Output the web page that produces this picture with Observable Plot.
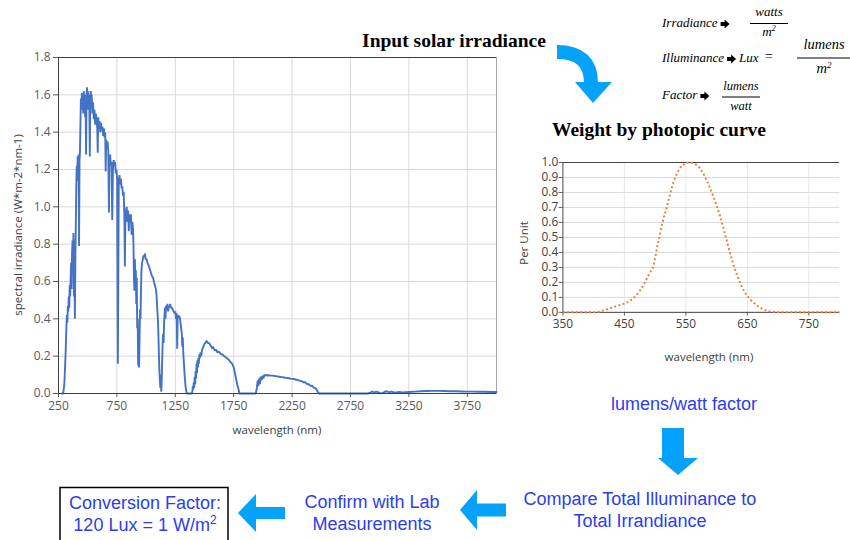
<!DOCTYPE html>
<html>
<head>
<meta charset="utf-8">
<script src="https://cdn.jsdelivr.net/npm/d3@7"></script>
<script src="https://cdn.jsdelivr.net/npm/@observablehq/plot@0.6"></script>
<style>
  html, body { margin: 0; padding: 0; background: #fff; }
  #stage { position: relative; width: 850px; height: 540px; overflow: hidden; background: #fff; }
  .chart { position: absolute; }
  #overlay { position: absolute; left: 0; top: 0; pointer-events: none; }
</style>
</head>
<body>
<div id="stage">
  <div id="main" class="chart" style="left:0;top:0"></div>
  <div id="photo" class="chart" style="left:500px;top:140px"></div>
  <svg id="overlay" width="850" height="540"></svg>
</div>
<script>
// ---------- Solar spectral irradiance ----------
const solarWavelength = [
  280,290,300,310,318,322,326,330,334,338,342,346,350,354,358,362,366,370,374,378,382,386,390,394,398,
  402,406,410,414,418,422,426,430,434,438,442,446,450,454,458,462,466,470,474,478,482,486,490,494,498,
  502,506,510,514,518,522,526,530,534,540,546,552,558,564,570,576,582,586,590,596,602,608,614,620,626,
  632,638,644,650,654,658,664,670,676,682,686,692,698,704,710,716,722,728,734,740,746,752,758,762,766,
  772,778,784,790,796,802,808,814,818,822,828,834,840,846,852,858,864,870,876,882,888,892,896,900,904,
  908,912,916,920,924,928,932,936,940,944,948,952,956,960,966,972,978,984,990,996,1004,1012,1020,1030,
  1040,1050,1060,1070,1080,1086,1090,1094,1098,1102,1106,1110,1114,1118,1122,1126,1130,1134,1138,1142,
  1146,1150,1154,1158,1162,1166,1170,1176,1182,1188,1194,1200,1206,1212,1220,1228,1236,1244,1250,1256,
  1262,1266,1270,1276,1282,1288,1294,1300,1306,1310,1314,1318,1324,1330,1336,1342,1348,1390,1396,1400,
  1404,1408,1412,1416,1420,1424,1428,1432,1436,1440,1444,1448,1452,1456,1460,1466,1472,1478,1484,1490,
  1496,1502,1508,1514,1520,1530,1540,1550,1560,1566,1570,1580,1590,1600,1610,1620,1630,1640,1650,1660,
  1670,1680,1690,1700,1710,1720,1730,1740,1750,1760,1770,1780,1790,1800,1940,1948,1956,1962,1968,1974,
  1980,1988,1996,2004,2012,2020,2030,2040,2050,2060,2080,2100,2120,2140,2160,2180,2200,2220,2240,2260,
  2280,2300,2320,2340,2350,2360,2370,2380,2390,2400,2410,2420,2430,2440,2450,2460,2470,2480,2900,2920,
  2940,2950,2970,2990,3010,3040,3060,3080,3100,3130,3170,3200,3250,3300,3350,3400,3450,3500,3550,3600,
  3650,3700,3750,3800,3850,3900,3950,4000
];
const solarIrradiance = [
  0,0,0.05,0.2,0.36,0.42,0.38,0.47,0.44,0.52,0.46,0.58,0.52,0.62,0.70,0.56,0.75,0.82,0.68,0.86,0.52,0.82,0.40,0.70,0.88,
  1.10,1.22,1.14,1.27,1.20,1.28,0.79,1.25,1.30,1.45,1.58,1.52,1.61,1.55,1.60,1.50,1.62,1.56,1.60,1.48,1.58,1.28,1.60,1.64,1.57,
  1.62,1.52,1.60,1.55,1.27,1.58,1.62,1.55,1.60,1.50,1.56,1.47,1.52,1.44,1.50,1.46,1.42,1.29,1.48,1.44,1.46,1.40,1.45,1.41,1.43,
  1.38,1.42,1.37,1.40,1.19,1.36,1.33,1.35,1.30,0.97,1.26,1.28,1.22,1.24,0.93,1.20,1.25,1.22,1.24,1.18,1.20,1.15,0.16,0.60,1.14,
  1.17,1.12,1.15,1.10,1.11,1.06,1.08,0.95,0.68,0.90,0.98,1.00,0.92,0.98,0.87,0.96,0.93,0.96,0.85,0.92,0.88,0.80,0.62,0.55,0.72,
  0.60,0.66,0.48,0.62,0.35,0.40,0.15,0.17,0.14,0.30,0.45,0.40,0.55,0.66,0.70,0.72,0.74,0.73,0.75,0.72,0.72,0.70,0.69,0.67,
  0.65,0.63,0.62,0.59,0.57,0.55,0.52,0.47,0.43,0.38,0.30,0.20,0.12,0.07,0.03,0.10,0.01,0.08,0.18,0.28,
  0.32,0.27,0.38,0.42,0.46,0.40,0.47,0.45,0.48,0.44,0.47,0.46,0.48,0.46,0.46,0.45,0.44,0.43,0.44,0.40,
  0.43,0.24,0.40,0.42,0.41,0.41,0.38,0.35,0.32,0.25,0.30,0.22,0.16,0.10,0.05,0.02,0,0,0.01,0.04,
  0.02,0.06,0.03,0.09,0.05,0.12,0.08,0.16,0.11,0.18,0.14,0.19,0.16,0.21,0.19,0.22,0.20,0.23,0.24,0.25,
  0.26,0.27,0.27,0.28,0.28,0.27,0.27,0.26,0.25,0.24,0.25,0.24,0.23,0.235,0.22,0.225,0.22,0.21,0.21,0.205,
  0.20,0.195,0.19,0.185,0.18,0.17,0.165,0.155,0.14,0.11,0.08,0.05,0.025,0,0,0.03,0.07,0.04,0.08,0.05,
  0.09,0.07,0.095,0.08,0.10,0.095,0.10,0.095,0.098,0.096,0.096,0.094,0.092,0.09,0.088,0.086,0.084,0.082,0.08,0.078,
  0.075,0.072,0.068,0.064,0.058,0.062,0.055,0.05,0.052,0.045,0.04,0.042,0.035,0.03,0.03,0.02,0.01,0,0,0.005,
  0.012,0.004,0.01,0.006,0,0.008,0.012,0.006,0.01,0.004,0.008,0.005,0.008,0.01,0.012,0.013,0.014,0.014,0.013,0.012,
  0.012,0.011,0.01,0.01,0.009,0.009,0.008,0.008
];
const mainXTicks = [250, 750, 1250, 1750, 2250, 2750, 3250, 3750];
const mainYTicks = [0, 0.2, 0.4, 0.6, 0.8, 1.0, 1.2, 1.4, 1.6, 1.8];

// ---------- Photopic curve ----------
const photopicWavelength = [350,400,410,420,430,440,450,460,470,480,490,497,505,512,520,530,540,550,556,565,575,585,595,605,615,625,635,645,655,665,675,685,695,705,750,800];
const photopicValue      = [0,0,0.005,0.018,0.032,0.045,0.058,0.08,0.118,0.175,0.255,0.31,0.47,0.60,0.72,0.87,0.96,0.995,1.0,0.99,0.95,0.87,0.77,0.65,0.50,0.35,0.23,0.14,0.085,0.048,0.022,0.008,0.002,0,0,0];
const photoXTicks = [350, 450, 550, 650, 750];
const photoYTicks = [0, 0.1, 0.2, 0.3, 0.4, 0.5, 0.6, 0.7, 0.8, 0.9, 1.0];

// ---------- Texts ----------
const titleSolar = "Input solar irradiance";
const titlePhotopic = "Weight by photopic curve";
const mainYLabel = "spectral irradiance (W*m-2*nm-1)";
const xLabel = "wavelength (nm)";
const photoYLabel = "Per Unit";
const stepFactor = "lumens/watt factor";
const stepCompare = ["Compare Total Illuminance to", "Total Irrandiance"];
const stepConfirm = ["Confirm with Lab", "Measurements"];
const conversionLines = ["Conversion Factor:", "120 Lux = 1 W/m"];

const solar = solarWavelength.map((w, i) => ({w, v: solarIrradiance[i]}));
const photopic = photopicWavelength.map((w, i) => ({w, v: photopicValue[i]}));

const gridColor = "#d9d9d9";
const axisColor = "#595959";

const mainChart = Plot.plot({
  width: 500, height: 440,
  marginLeft: 58, marginRight: 4, marginTop: 57, marginBottom: 47,
  style: {fontFamily: "'Open Sans', sans-serif", fontSize: "12px", color: axisColor, background: "transparent"},
  x: {domain: [250, 4000]},
  y: {domain: [0, 1.8]},
  marks: [
    Plot.gridX(mainXTicks, {stroke: gridColor, strokeOpacity: 1}),
    Plot.gridY(mainYTicks, {stroke: gridColor, strokeOpacity: 1}),
    Plot.frame({stroke: "#a6a6a6"}),
    Plot.axisX(mainXTicks, {tickSize: 4, tickPadding: 4, label: null, tickFormat: d => String(d), stroke: axisColor}),
    Plot.axisY(mainYTicks, {tickSize: 5, tickPadding: 3, label: null, tickFormat: d => d.toFixed(1), stroke: axisColor}),
    Plot.ruleY([1.8], {stroke: "#404040", strokeWidth: 1}),
    Plot.line(solar, {x: "w", y: "v", stroke: "#4472C4", strokeWidth: 1.9, strokeLinejoin: "miter"}),
    Plot.ruleX([250], {stroke: "#404040"}),
    Plot.ruleY([0], {stroke: "#404040"})
  ]
});
document.getElementById("main").appendChild(mainChart);

const photoChart = Plot.plot({
  width: 370, height: 230,
  marginLeft: 66, marginRight: 11.5, marginTop: 23.3, marginBottom: 48.3,
  style: {fontFamily: "'Open Sans', sans-serif", fontSize: "12.5px", color: "#404040", background: "transparent"},
  x: {domain: [350, 800]},
  y: {domain: [0, 1]},
  marks: [
    Plot.gridX(photoXTicks.slice(1), {stroke: "#e6e6e6", strokeOpacity: 1}),
    Plot.gridY(photoYTicks, {stroke: gridColor, strokeOpacity: 1}),
    Plot.axisX(photoXTicks, {tickSize: 4, tickPadding: 4, label: null, tickFormat: d => String(d), stroke: axisColor}),
    Plot.axisY(photoYTicks, {tickSize: 4, tickPadding: 1, label: null, tickFormat: d => d.toFixed(1), stroke: axisColor}),
    Plot.ruleY([1], {stroke: "#404040"}),
    Plot.ruleX([350], {stroke: "#404040"}),
    Plot.ruleY([0], {stroke: "#404040"}),
    Plot.line(photopic, {x: "w", y: "v", stroke: "#ED7D31", strokeWidth: 2.1, strokeDasharray: "2,2.6", strokeLinecap: "butt", curve: "monotone-x"})
  ]
});
document.getElementById("photo").appendChild(photoChart);

// ---------- Overlay annotations ----------
const svg = d3.select("#overlay");
const serif = "'Liberation Serif', 'Times New Roman', serif";
const sans = "'Liberation Sans', Arial, Helvetica, sans-serif";
const blueText = "#2a3df2";
const arrowBlue = "#05a2fb";

function txt(x, y, s, opts = {}) {
  const t = svg.append("text").attr("x", x).attr("y", y).text(s)
    .attr("font-family", opts.family || sans)
    .attr("font-size", opts.size || 18)
    .attr("fill", opts.fill || "#000")
    .attr("text-anchor", opts.anchor || "middle")
    .attr("dominant-baseline", "middle");
  if (opts.weight) t.attr("font-weight", opts.weight);
  if (opts.style) t.attr("font-style", opts.style);
  if (opts.rotate) t.attr("transform", `rotate(${opts.rotate},${x},${y})`);
  return t;
}

// axis titles
txt(19, 225, mainYLabel, {family: "'Open Sans', sans-serif", size: 11.5, fill: "#404040", rotate: -90});
txt(277, 431, xLabel, {family: "'Open Sans', sans-serif", size: 11.5, fill: "#404040"});
txt(525, 243, photoYLabel, {family: "'Open Sans', sans-serif", size: 11.5, fill: "#404040", rotate: -90});
txt(709, 358, xLabel, {family: "'Open Sans', sans-serif", size: 11.5, fill: "#404040"});

// titles
txt(454, 43, titleSolar, {family: serif, size: 19.5, weight: "bold"});
txt(659, 132, titlePhotopic, {family: serif, size: 19.5, weight: "bold"});

// curved arrow
svg.append("path").attr("d", "M557,52 Q591,52 591,83").attr("fill", "none")
  .attr("stroke", arrowBlue).attr("stroke-width", 14);
svg.append("path").attr("d", "M575,82 L612,82 L593,103 Z").attr("fill", arrowBlue);

// formulas
const mathFont = "'Liberation Serif', 'DejaVu Serif', serif";
function frac(cx, yTop, yLine, yBot, num, den, size, w) {
  txt(cx, yTop, num, {family: mathFont, size, style: "italic"});
  svg.append("line").attr("x1", cx - w / 2).attr("x2", cx + w / 2).attr("y1", yLine).attr("y2", yLine)
    .attr("stroke", "#000").attr("stroke-width", 1);
  return txt(cx, yBot, den, {family: mathFont, size, style: "italic"});
}
function arrowR(x, y) {
  svg.append("path").attr("d", `M${x},${y - 2} L${x + 4},${y - 2} L${x + 4},${y - 4.5} L${x + 9},${y} L${x + 4},${y + 4.5} L${x + 4},${y + 2} L${x},${y + 2} Z`).attr("fill", "#000");
}
function word(x, y, s, size) {
  const t = txt(x, y, s, {family: mathFont, size, style: "italic", anchor: "start"});
  return x + t.node().getComputedTextLength();
}
let e1 = word(662, 24, "Irradiance", 13);
arrowR(e1 + 3, 24);
const m1 = frac(769, 13, 23.5, 33, "watts", "m", 13, 38);
m1.append("tspan").attr("font-size", 8.5).attr("dy", -4).text("2");
let e2 = word(662, 59, "Illuminance", 13);
arrowR(e2 + 3, 59);
word(e2 + 15, 59, "Lux", 13);
txt(769, 58, "=", {family: mathFont, size: 14});
const m2 = frac(824, 46, 58, 70, "lumens", "m", 14.5, 54);
m2.append("tspan").attr("font-size", 9).attr("dy", -4).text("2");
let e3 = word(662, 96, "Factor", 13);
arrowR(e3 + 3, 96);
frac(741, 87, 97, 107, "lumens", "watt", 12.5, 38);

// flow texts
txt(684, 405, stepFactor, {fill: blueText});
txt(640, 500, stepCompare[0], {fill: blueText});
txt(640, 522, stepCompare[1], {fill: blueText});
txt(372, 503, stepConfirm[0], {fill: blueText});
txt(372, 525, stepConfirm[1], {fill: blueText});

// conversion box
svg.append("rect").attr("x", 60).attr("y", 487.5).attr("width", 168).attr("height", 60)
  .attr("fill", "none").attr("stroke", "#000").attr("stroke-width", 1.5);
txt(145, 504, conversionLines[0], {fill: blueText});
const cv = txt(145, 526, conversionLines[1], {fill: blueText});
cv.append("tspan").attr("font-size", 12).attr("dy", -5).text("2");

// down arrow
svg.append("path").attr("d", "M662,428 L684,428 L684,458 L698,458 L678,475 L658,458 L662,458 Z").attr("fill", arrowBlue);
// left arrows
svg.append("path").attr("d", "M506,503.5 L477,503.5 L477,490 L460,510 L477,530 L477,516.5 L506,516.5 Z").attr("fill", arrowBlue);
svg.append("path").attr("d", "M285,507 L256,507 L256,494 L238,513 L256,532 L256,519 L285,519 Z").attr("fill", arrowBlue);
</script>
</body>
</html>
